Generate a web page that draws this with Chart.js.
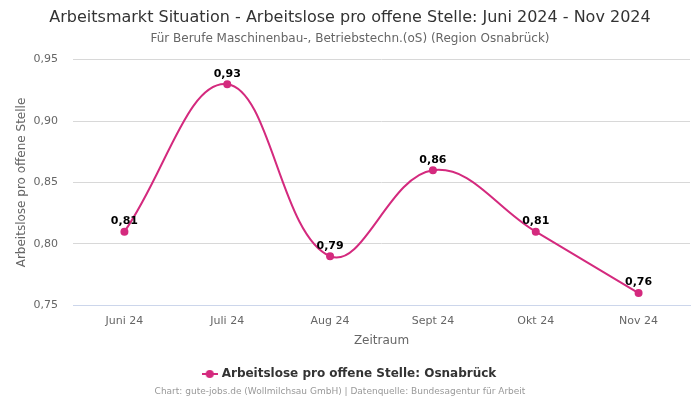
<!DOCTYPE html>
<html>
<head>
<meta charset="utf-8">
<script src="https://cdn.jsdelivr.net/npm/chart.js@4"></script>
<style>
    html, body { margin: 0; padding: 0; background: #fff; }
    #wrap { width: 700px; height: 400px; position: relative; }
</style>
</head>
<body>
<div id="wrap"><canvas id="chart"></canvas></div>
<script>
// chart data
const months = ['Juni 24', 'Juli 24', 'Aug 24', 'Sept 24', 'Okt 24', 'Nov 24'];
const ratioValues = [0.81, 0.93, 0.79, 0.86, 0.81, 0.76];
const yTicks = [0.75, 0.80, 0.85, 0.90, 0.95];

const lineColor = '#d42a7e';
const fontFamily = '"DejaVu Sans", sans-serif';

function fmt(v) {
    return v.toFixed(2).replace('.', ',');
}

// legend marker: short line with a dot, like the original
function makeLegendMarker() {
    const c = document.createElement('canvas');
    c.width = 16;
    c.height = 10;
    const g = c.getContext('2d');
    g.strokeStyle = lineColor;
    g.lineWidth = 2;
    g.beginPath();
    g.moveTo(0, 5);
    g.lineTo(16, 5);
    g.stroke();
    g.fillStyle = lineColor;
    g.beginPath();
    g.arc(8, 5, 4, 0, Math.PI * 2);
    g.fill();
    return c;
}

// value labels above the points
const valueLabels = {
    id: 'valueLabels',
    afterDatasetsDraw(chart) {
        const ctx = chart.ctx;
        const meta = chart.getDatasetMeta(0);
        ctx.save();
        ctx.font = 'bold 11px ' + fontFamily;
        ctx.fillStyle = '#000';
        ctx.textAlign = 'center';
        ctx.textBaseline = 'bottom';
        meta.data.forEach((pt, i) => {
            ctx.fillText(fmt(ratioValues[i]), pt.x, pt.y - 5);
        });
        ctx.restore();
    }
};

// source line at the bottom
const footer = {
    id: 'footer',
    afterDraw(chart) {
        const ctx = chart.ctx;
        ctx.save();
        ctx.font = '9px ' + fontFamily;
        ctx.fillStyle = '#999';
        ctx.textAlign = 'center';
        ctx.textBaseline = 'middle';
        ctx.fillText('Chart: gute-jobs.de (Wollmilchsau GmbH) | Datenquelle: Bundesagentur für Arbeit', 340, 392);
        ctx.restore();
    }
};

new Chart(document.getElementById('chart'), {
    type: 'line',
    data: {
        labels: months,
        datasets: [{
            label: 'Arbeitslose pro offene Stelle: Osnabrück',
            data: ratioValues,
            borderColor: lineColor,
            backgroundColor: lineColor,
            borderWidth: 2,
            tension: 0.4,
            pointRadius: 4,
            pointHoverRadius: 4,
            pointBackgroundColor: lineColor,
            pointBorderWidth: 0
        }]
    },
    options: {
        responsive: true,
        maintainAspectRatio: false,
        animation: false,
        layout: {
            padding: { left: 10, right: 10, top: 0, bottom: 10 }
        },
        plugins: {
            title: {
                display: true,
                text: 'Arbeitsmarkt Situation - Arbeitslose pro offene Stelle: Juni 2024 - Nov 2024',
                color: '#333',
                font: { family: fontFamily, size: 16, weight: 'normal' },
                padding: { top: 8, bottom: 4 }
            },
            subtitle: {
                display: true,
                text: 'Für Berufe Maschinenbau-, Betriebstechn.(oS) (Region Osnabrück)',
                color: '#666',
                font: { family: fontFamily, size: 12 },
                padding: { bottom: 14 }
            },
            legend: {
                position: 'bottom',
                labels: {
                    usePointStyle: true,
                    color: '#333',
                    font: { family: fontFamily, size: 12, weight: 'bold' },
                    padding: 6,
                    generateLabels(chart) {
                        const items = Chart.defaults.plugins.legend.labels.generateLabels(chart);
                        items.forEach(it => { it.pointStyle = makeLegendMarker(); });
                        return items;
                    }
                }
            },
            tooltip: { enabled: false }
        },
        scales: {
            x: {
                offset: true,
                grid: { display: false, drawTicks: false },
                border: { display: true, color: '#ccd6eb' },
                ticks: {
                    color: '#666',
                    font: { family: fontFamily, size: 11 },
                    padding: 9
                },
                afterFit(axis) {
                    axis.height -= 4;
                },
                title: {
                    display: true,
                    text: 'Zeitraum',
                    color: '#666',
                    font: { family: fontFamily, size: 12 },
                    padding: { top: 1, bottom: 14 }
                }
            },
            y: {
                min: yTicks[0],
                max: yTicks[yTicks.length - 1],
                afterBuildTicks(axis) {
                    axis.ticks = yTicks.map(v => ({ value: v }));
                },
                afterFit(axis) {
                    axis.width = 63;
                },
                grid: { color: '#d8d8d8', drawTicks: false },
                border: { display: false },
                ticks: {
                    color: '#666',
                    font: { family: fontFamily, size: 11 },
                    padding: 15,
                    callback: v => fmt(v)
                },
                title: {
                    display: true,
                    text: 'Arbeitslose pro offene Stelle',
                    color: '#666',
                    font: { family: fontFamily, size: 12 },
                    padding: { top: 5, bottom: 0 }
                }
            }
        }
    },
    plugins: [valueLabels, footer]
});
</script>
</body>
</html>
